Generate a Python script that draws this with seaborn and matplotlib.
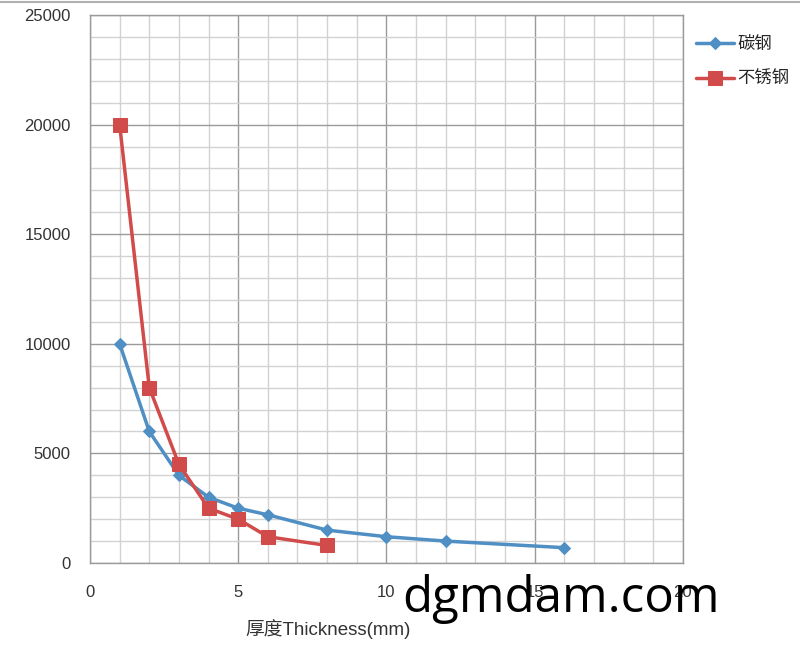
import numpy as np
import pandas as pd
import matplotlib
matplotlib.use("Agg")
import matplotlib.pyplot as plt
from matplotlib.lines import Line2D
from matplotlib.ticker import MultipleLocator
import seaborn as sns

# data
carbon_x = [1, 2, 3, 4, 5, 6, 8, 10, 12, 16]
carbon_y = [10000, 6000, 4000, 3000, 2500, 2200, 1500, 1200, 1000, 700]
stainless_x = [1, 2, 3, 4, 5, 6, 8]
stainless_y = [20000, 8000, 4500, 2500, 2000, 1200, 800]
series_names = ["碳钢", "不锈钢"]
x_label = "厚度Thickness(mm)"
watermark = "dgmdam.com"

sns.set_style("white")
plt.rcParams['font.family'] = ['Liberation Sans', 'Noto Sans CJK SC', 'DejaVu Sans']

df_carbon = pd.DataFrame({"x": carbon_x, "y": carbon_y})
df_stainless = pd.DataFrame({"x": stainless_x, "y": stainless_y})

fig = plt.figure(figsize=(8, 6.47), dpi=100)
ax = fig.add_axes([0.1125, 0.1298, 0.741, 0.847])

blue = "#4f8fc4"
red = "#d24b4b"

sns.lineplot(data=df_carbon, x="x", y="y", ax=ax, color=blue, lw=2.5,
             marker="D", markersize=6, markeredgecolor=blue,
             label=series_names[0], zorder=3)
sns.lineplot(data=df_stainless, x="x", y="y", ax=ax, color=red, lw=2.5,
             marker="s", markersize=10, markeredgecolor=red,
             label=series_names[1], zorder=4)

ax.set_xlim(0, 20)
ax.set_ylim(0, 25000)
ax.xaxis.set_major_locator(MultipleLocator(5))
ax.xaxis.set_minor_locator(MultipleLocator(1))
ax.yaxis.set_major_locator(MultipleLocator(5000))
ax.yaxis.set_minor_locator(MultipleLocator(1000))

ax.grid(which="minor", color="#d2d2d2", lw=1.0)
ax.grid(which="major", color="#9a9a9a", lw=1.0)
ax.set_axisbelow(True)

for side in ["left", "bottom", "right", "top"]:
    ax.spines[side].set_color("#9a9a9a")
    ax.spines[side].set_linewidth(1.0)

ax.tick_params(which="major", direction="out", length=5, color="#9a9a9a",
               labelsize=12, labelcolor="#333333", pad=9)
ax.tick_params(which="minor", length=0)
ax.tick_params(axis="x", pad=11)

ax.set_xlabel("")
ax.set_ylabel("")
fig.text(0.41, 0.028, x_label, ha="center", va="center", fontsize=13.5, color="#333333")

ax.legend(loc="upper left", bbox_to_anchor=(1.01, 0.975), frameon=False,
          fontsize=12.5, handlelength=2.2, handletextpad=0.2, labelspacing=1.1,
          borderaxespad=0)

# thin border line at top of image
fig.add_artist(Line2D([0, 1], [0.997, 0.997], transform=fig.transFigure,
                      color="#b0b0b0", lw=1.5))

fig.text(402 / 800, 1 - 612 / 647, watermark, ha="left", va="baseline",
         fontsize=35.5, color="black", family=["Open Sans", "DejaVu Sans"])

fig.savefig("out.png", dpi=100)
